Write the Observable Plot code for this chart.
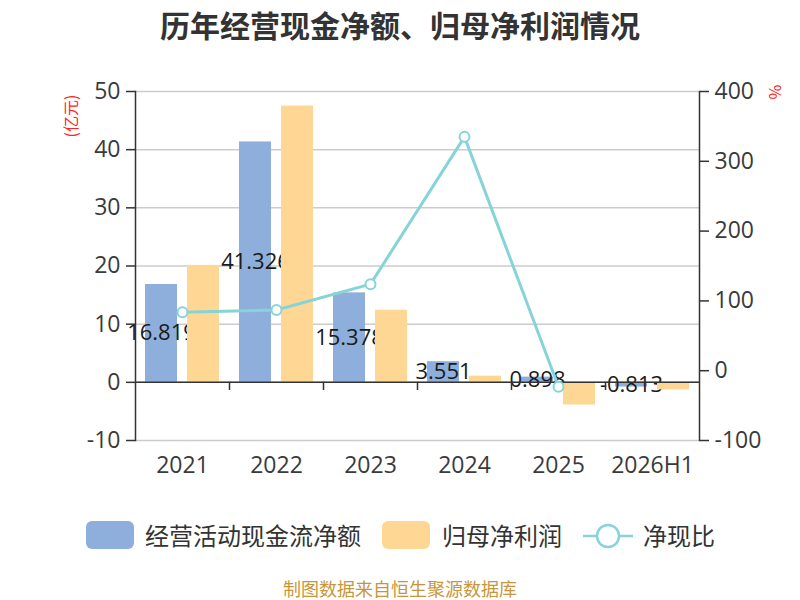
<!DOCTYPE html>
<html><head><meta charset="utf-8">
<script src="https://cdn.jsdelivr.net/npm/d3@7"></script>
<script src="https://cdn.jsdelivr.net/npm/@observablehq/plot@0.6"></script>
<style>
body{margin:0;background:#fff;font-family:"Noto Sans CJK SC","Noto Sans",sans-serif;}
#wrap{position:relative;width:800px;height:600px;overflow:hidden;background:#fff}
#title{position:absolute;top:2px;left:0;width:800px;text-align:center;font-size:30px;font-weight:bold;color:#333;line-height:44px}
#chart{position:absolute;top:60px;left:0}
.unit{position:absolute;color:#ff2424;font-size:16px;line-height:18px;white-space:nowrap}
.lg{position:absolute;font-size:24px;color:#333;line-height:30px;white-space:nowrap}
.box{position:absolute;width:48px;height:28px;border-radius:6px}
#caption{position:absolute;top:576px;left:0;width:800px;text-align:center;font-size:18px;color:#c8963a;line-height:24px}
</style></head>
<body><div id="wrap">
<div id="title">历年经营现金净额、归母净利润情况</div>
<div id="chart"></div>
<div class="unit" id="u1" style="left:49px;top:107px;transform:rotate(-90deg)">(亿元)</div>
<div class="unit" id="u2" style="left:769px;top:83px;transform:rotate(90deg)">%</div>
<div class="box" style="left:86px;top:521px;background:#8eaedc"></div>
<div class="lg" style="left:145px;top:520px">经营活动现金流净额</div>
<div class="box" style="left:382px;top:521px;background:#ffd795"></div>
<div class="lg" style="left:442px;top:520px">归母净利润</div>
<svg style="position:absolute;left:580px;top:522px" width="56" height="28">
  <line x1="3" y1="14" x2="53" y2="14" stroke="#86d4d8" stroke-width="2.5"/>
  <circle cx="28" cy="14" r="11" fill="#fff" stroke="#86d4d8" stroke-width="2.5"/>
</svg>
<div class="lg" style="left:643px;top:520px">净现比</div>
<div id="caption">制图数据来自恒生聚源数据库</div>
</div>
<script>
const years = ["2021","2022","2023","2024","2025","2026H1"];
const cashFlow = [16.819, 41.326, 15.378, 3.551, 0.898, -0.813];
const netProfit = [20.1, 47.5, 12.4, 1.06, -3.9, -1.3];
const ratio = [83.7, 87.0, 124.0, 335.0, -23.0, null];
const leftTicks = [-10, 0, 10, 20, 30, 40, 50];
const rightTicks = [-100, 0, 100, 200, 300, 400];

const data = years.map((y, i) => ({year: y, cash: cashFlow[i], profit: netProfit[i], ratio: ratio[i]}));
const toLeft = r => -10 + (r + 100) * 60 / 500;
const fromLeft = v => String(Math.round((v + 10) * 500 / 60 - 100));
const fmt = v => v.toFixed(3);
const lineColor = "#86d4d8";
const numFont = '"Open Sans","Noto Sans",sans-serif';

const chart = Plot.plot({
  width: 800, height: 440,
  marginLeft: 135, marginRight: 101, marginTop: 31, marginBottom: 60,
  style: {fontFamily: numFont, fontSize: "23px", color: "#333", background: "transparent", overflow: "visible"},
  x: {type: "band", domain: years, padding: 0, axis: null},
  y: {domain: [-10, 50], axis: null},
  marks: [
    Plot.gridY(leftTicks, {stroke: "#cccccc", strokeOpacity: 1, strokeWidth: 1.5}),
    Plot.barY(data, {x: "year", y: "cash", fill: "#8eaedc", insetLeft: 10, insetRight: 52}),
    Plot.text(data, {x: "year", y: d => d.cash / 2, text: d => fmt(d.cash), dx: -21, fontSize: 22, fill: "#1a1a1a"}),
    Plot.barY(data, {x: "year", y: "profit", fill: "#ffd795", insetLeft: 52, insetRight: 10}),
    Plot.ruleY([0], {stroke: "#333", strokeWidth: 1.5}),
    Plot.ruleX(years.slice(1), {x: d => d, dx: -47, y1: 0, y2: -1.4, stroke: "#333", strokeWidth: 1.5}),
    Plot.line(data, {x: "year", y: d => d.ratio == null ? NaN : toLeft(d.ratio), stroke: lineColor, strokeWidth: 3}),
    Plot.dot(data.filter(d => d.ratio != null), {x: "year", y: d => toLeft(d.ratio), r: 5, fill: "#fff", stroke: lineColor, strokeWidth: 2}),
    Plot.frame({anchor: "left", stroke: "#333", strokeWidth: 1.5}),
    Plot.frame({anchor: "right", stroke: "#333", strokeWidth: 1.5}),
    Plot.axisY(leftTicks, {anchor: "left", tickSize: 9, tickPadding: 6, fontSize: 23, fill: "#3a3a3a", stroke: "#333", strokeWidth: 1.5, tickFormat: d => String(d), label: null}),
    Plot.axisY(rightTicks.map(toLeft), {anchor: "right", tickSize: 9, tickPadding: 6, fontSize: 23, fill: "#3a3a3a", stroke: "#333", strokeWidth: 1.5, tickFormat: fromLeft, label: null}),
    Plot.axisX({anchor: "bottom", tickSize: 0, tickPadding: 16, fontSize: 23, fill: "#3a3a3a", label: null})
  ]
});
document.getElementById("chart").appendChild(chart);
</script>
</body></html>
